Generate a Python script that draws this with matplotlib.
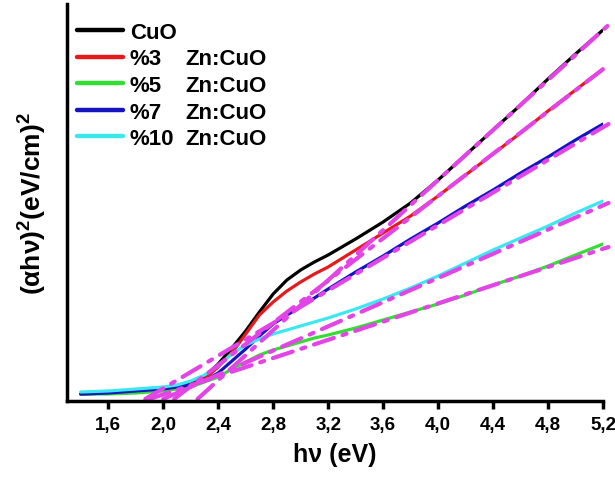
import matplotlib
matplotlib.use('Agg')
import matplotlib.pyplot as plt

# photon energy (eV)
energy = [1.4, 1.6, 1.8, 2.0, 2.1, 2.2, 2.3, 2.4, 2.5, 2.6, 2.7, 2.8, 2.9,
          3.0, 3.1, 3.2, 3.4, 3.6, 3.8, 4.0, 4.2, 4.4, 4.6, 4.8, 5.0, 5.2]

# (alpha h nu)^2, arbitrary units
cuo = [5, 6, 8, 10, 12, 15, 22, 35, 51, 68, 87, 105, 119,
       129, 137, 144, 160, 177, 196, 219, 244, 269, 294, 320, 345, 369]
zn3 = [5, 6, 8, 10, 12, 14, 20, 32, 46, 65, 84, 97, 108,
       117, 125, 132, 149, 166, 183, 203, 224, 245, 266, 288, 309, 330]
zn5 = [5, 5, 6, 8, 10, 12, 17, 22, 30, 37, 44, 49, 53,
       57, 61, 64, 71, 79, 87, 95, 104, 114, 123, 133, 144, 155]
zn7 = [5, 6, 8, 10, 12, 14, 18, 26, 38, 50, 63, 75, 84,
       92, 101, 110, 127, 143, 160, 176, 193, 209, 226, 242, 259, 275]
zn10 = [7, 8, 10, 12, 14, 18, 24, 33, 45, 54, 60, 65, 69,
        73, 77, 81, 90, 100, 111, 123, 136, 149, 161, 173, 186, 198]

labels = ['CuO', '%3', '%5', '%7', '%10']
colors = ['black', '#e41a1c', '#33dd33', '#1515c0', '#3ce8f0']
series = [cuo, zn3, zn5, zn7, zn10]

# linear Tauc fits: start energy (y=0) and value at end energy
fit_x0 = [2.25, 2.08, 1.90, 1.87, 2.00]
fit_x1 = 5.24
fit_y1 = [374, 334, 152, 275, 196]

plt.rcParams['font.family'] = 'Liberation Sans'
plt.rcParams['font.weight'] = 'bold'
plt.rcParams['mathtext.fontset'] = 'custom'
plt.rcParams['mathtext.rm'] = 'Liberation Sans:bold'
plt.rcParams['mathtext.bf'] = 'Liberation Sans:bold'

fig = plt.figure(figsize=(6.15, 4.81), dpi=100)
ax = fig.add_axes([67 / 615, 79 / 481, 536 / 615, 397 / 481])

handles = []
for y, c, lab in zip(series, colors, labels):
    h, = ax.plot(energy, y, color=c, linewidth=2.3, label=lab,
                 solid_capstyle='round', solid_joinstyle='round')
    handles.append(h)

for x0, y1 in zip(fit_x0, fit_y1):
    ax.plot([x0, fit_x1], [0, y1], color='#e344e6', linewidth=3,
            linestyle=(0, (5, 2.2, 1, 2.2)), dash_capstyle='round',
            clip_on=False)

ax.set_xlim(1.3, 5.2)
ax.set_ylim(-2, 395)
ax.set_xticks([1.6, 2.0, 2.4, 2.8, 3.2, 3.6, 4.0, 4.4, 4.8, 5.2])
ax.set_xticklabels(['1,6', '2,0', '2,4', '2,8', '3,2', '3,6', '4,0',
                    '4,4', '4,8', '5,2'], fontsize=13.5, fontweight='bold')
ax.set_yticks([])
ax.tick_params(axis='x', direction='out', length=6, width=2.5, pad=5)
for s in ['top', 'right']:
    ax.spines[s].set_visible(False)
for s in ['left', 'bottom']:
    ax.spines[s].set_linewidth(2.5)

ax.set_xlabel('h\u03bd (eV)', fontsize=18, fontweight='bold', labelpad=6)
ax.set_ylabel('(\u03b1h\u03bd)$^\\mathbf{2}$(eV/cm)$^\\mathbf{2}$',
              fontsize=19, fontweight='bold', labelpad=14)

leg = ax.legend(handles=handles, loc='upper left',
                bbox_to_anchor=(0.018, 0.955), frameon=False,
                borderpad=0, borderaxespad=0, handlelength=2.1,
                handletextpad=0.3, labelspacing=0.25,
                prop={'size': 16, 'weight': 'bold'})
for line in leg.get_lines():
    line.set_linewidth(3.2)

fig.canvas.draw()
for t in leg.get_texts()[1:]:
    bb = t.get_window_extent()
    fig.text(185 / 615, bb.y0 / fig.bbox.height, 'Zn:CuO', fontsize=16,
             fontweight='bold', va='bottom', ha='left')

fig.savefig('out.png', dpi=100)
